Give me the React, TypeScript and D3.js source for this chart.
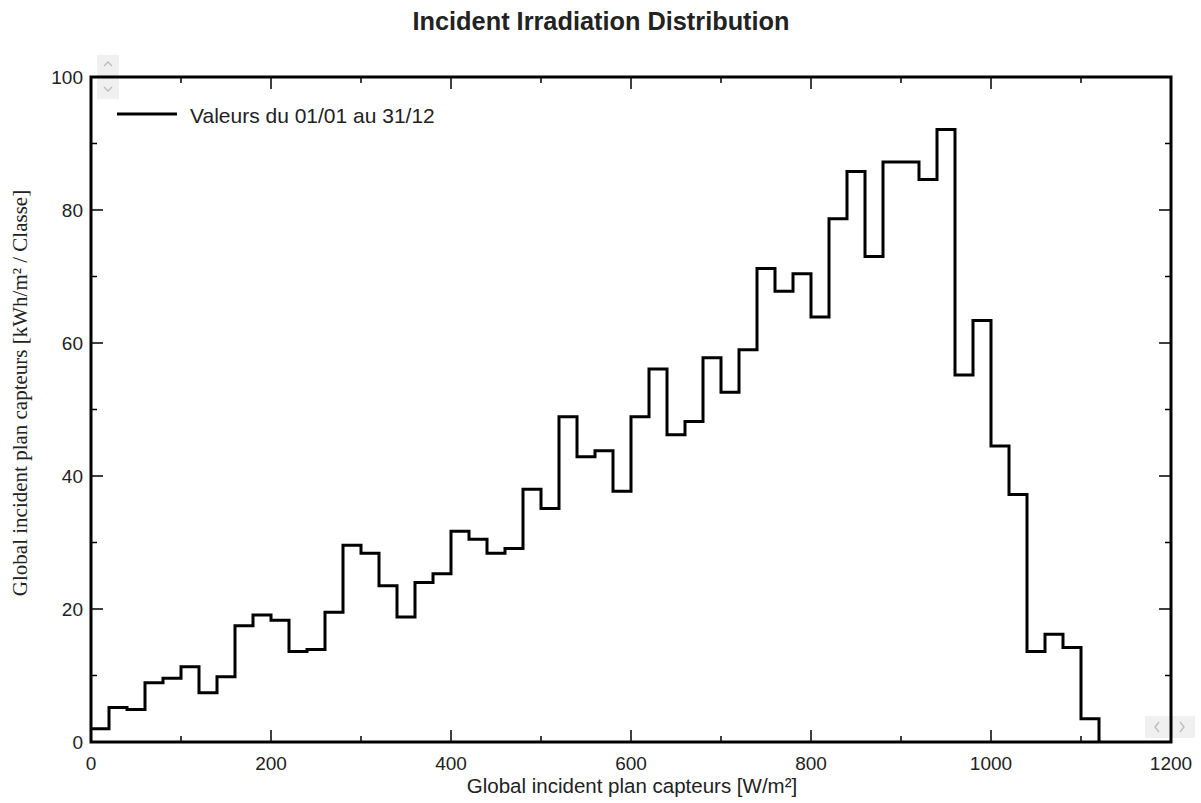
import React from "react";
import * as d3 from "d3";

const binStarts: number[] = d3.range(0, 1120, 20);
const values: number[] = [
  2.0, 5.2, 4.9, 8.9, 9.6, 11.3, 7.4, 9.8, 17.5, 19.1,
  18.3, 13.6, 13.9, 19.5, 29.6, 28.4, 23.5, 18.8, 24.0, 25.3,
  31.7, 30.5, 28.4, 29.1, 38.0, 35.1, 48.9, 42.9, 43.8, 37.7,
  48.9, 56.1, 46.2, 48.2, 57.8, 52.6, 59.0, 71.2, 67.8, 70.4,
  63.9, 78.7, 85.8, 73.0, 87.2, 87.2, 84.6, 92.1, 55.2, 63.4,
  44.5, 37.2, 13.6, 16.2, 14.2, 3.5,
];
const xTicks: number[] = [0, 200, 400, 600, 800, 1000, 1200];
const yTicks: number[] = [0, 20, 40, 60, 80, 100];
const title = "Incident Irradiation Distribution";
const xLabel = "Global incident plan capteurs [W/m²]";
const yLabel = "Global incident plan capteurs [kWh/m² / Classe]";
const legendLabel = "Valeurs du 01/01 au 31/12";

export default function App() {
  const W = 1201, H = 803;
  const L = 91, R = 1171, T = 77, B = 742;
  const x = d3.scaleLinear().domain([0, 1200]).range([L, R]);
  const y = d3.scaleLinear().domain([0, 100]).range([B, T]);

  const pts: [number, number][] = binStarts.map((s, i) => [s, values[i]]);
  pts.push([binStarts[binStarts.length - 1] + 20, 0]);
  const line = d3
    .line<[number, number]>()
    .x((d) => x(d[0]))
    .y((d) => y(d[1]))
    .curve(d3.curveStepAfter);

  const xMinor = d3.range(100, 1200, 200);
  const yMinor = d3.range(10, 100, 20);
  const sans = "'Liberation Sans', Arial, sans-serif";

  return (
    <svg
      width={W}
      height={H}
      style={{ position: "absolute", left: 0, top: 0, background: "#fff" }}
    >
      <rect x={0} y={0} width={W} height={H} fill="#fff" />
      <text x={601} y={30} textAnchor="middle" fontFamily={sans} fontWeight="bold" fontSize={25} fill="#222" textLength={377} lengthAdjust="spacingAndGlyphs">
        {title}
      </text>

      {/* scroll widgets */}
      <g stroke="none">
        <rect x={97} y={55} width={22} height={21} fill="#f0f0f0" />
        <rect x={97} y={78} width={22} height={21} fill="#f0f0f0" />
        <rect x={1145} y={716} width={24} height={22} fill="#f0f0f0" />
        <rect x={1171} y={716} width={24} height={22} fill="#f0f0f0" />
      </g>
      <g fill="none" stroke="#bbb" strokeWidth={1.3}>
        <path d="M104,66 L108,62 L112,66" />
        <path d="M104,87 L108,91 L112,87" />
        <path d="M1159,722 L1155,727 L1159,732" />
        <path d="M1180,722 L1184,727 L1180,732" />
      </g>

      {/* ticks */}
      <g stroke="#000" strokeWidth={1.5}>
        {xTicks.map((t) => (
          <g key={"xt" + t}>
            <line x1={x(t)} x2={x(t)} y1={B} y2={B - 12} />
            <line x1={x(t)} x2={x(t)} y1={T} y2={T + 12} />
          </g>
        ))}
        {xMinor.map((t) => (
          <g key={"xm" + t}>
            <line x1={x(t)} x2={x(t)} y1={B} y2={B - 6} />
            <line x1={x(t)} x2={x(t)} y1={T} y2={T + 6} />
          </g>
        ))}
        {yTicks.map((t) => (
          <g key={"yt" + t}>
            <line x1={L} x2={L + 12} y1={y(t)} y2={y(t)} />
            <line x1={R} x2={R - 12} y1={y(t)} y2={y(t)} />
          </g>
        ))}
        {yMinor.map((t) => (
          <g key={"ym" + t}>
            <line x1={L} x2={L + 6} y1={y(t)} y2={y(t)} />
            <line x1={R} x2={R - 6} y1={y(t)} y2={y(t)} />
          </g>
        ))}
      </g>

      {/* tick labels */}
      <g fontFamily={sans} fontSize={19} fill="#222">
        {xTicks.map((t) => (
          <text key={"xl" + t} x={x(t)} y={770} textAnchor="middle">
            {t}
          </text>
        ))}
        {yTicks.map((t) => (
          <text key={"yl" + t} x={83} y={y(t) + 7} textAnchor="end">
            {t}
          </text>
        ))}
      </g>

      {/* histogram */}
      <path d={line(pts) || ""} fill="none" stroke="#000" strokeWidth={3} strokeLinejoin="miter" />

      {/* frame */}
      <rect x={L} y={T} width={R - L} height={B - T} fill="none" stroke="#000" strokeWidth={3} />

      {/* legend */}
      <line x1={117} x2={177} y1={114} y2={114} stroke="#000" strokeWidth={3} />
      <text x={190} y={123} fontFamily={sans} fontSize={21} fill="#222">
        {legendLabel}
      </text>

      {/* axis labels */}
      <text x={632} y={793} textAnchor="middle" fontFamily={sans} fontSize={20.5} fill="#222">
        {xLabel}
      </text>
      <text
        transform={`translate(27,${393}) rotate(-90)`}
        textAnchor="middle"
        fontFamily="'Liberation Serif', 'Times New Roman', serif"
        fontSize={21}
        fill="#222"
      >
        {yLabel}
      </text>
    </svg>
  );
}
